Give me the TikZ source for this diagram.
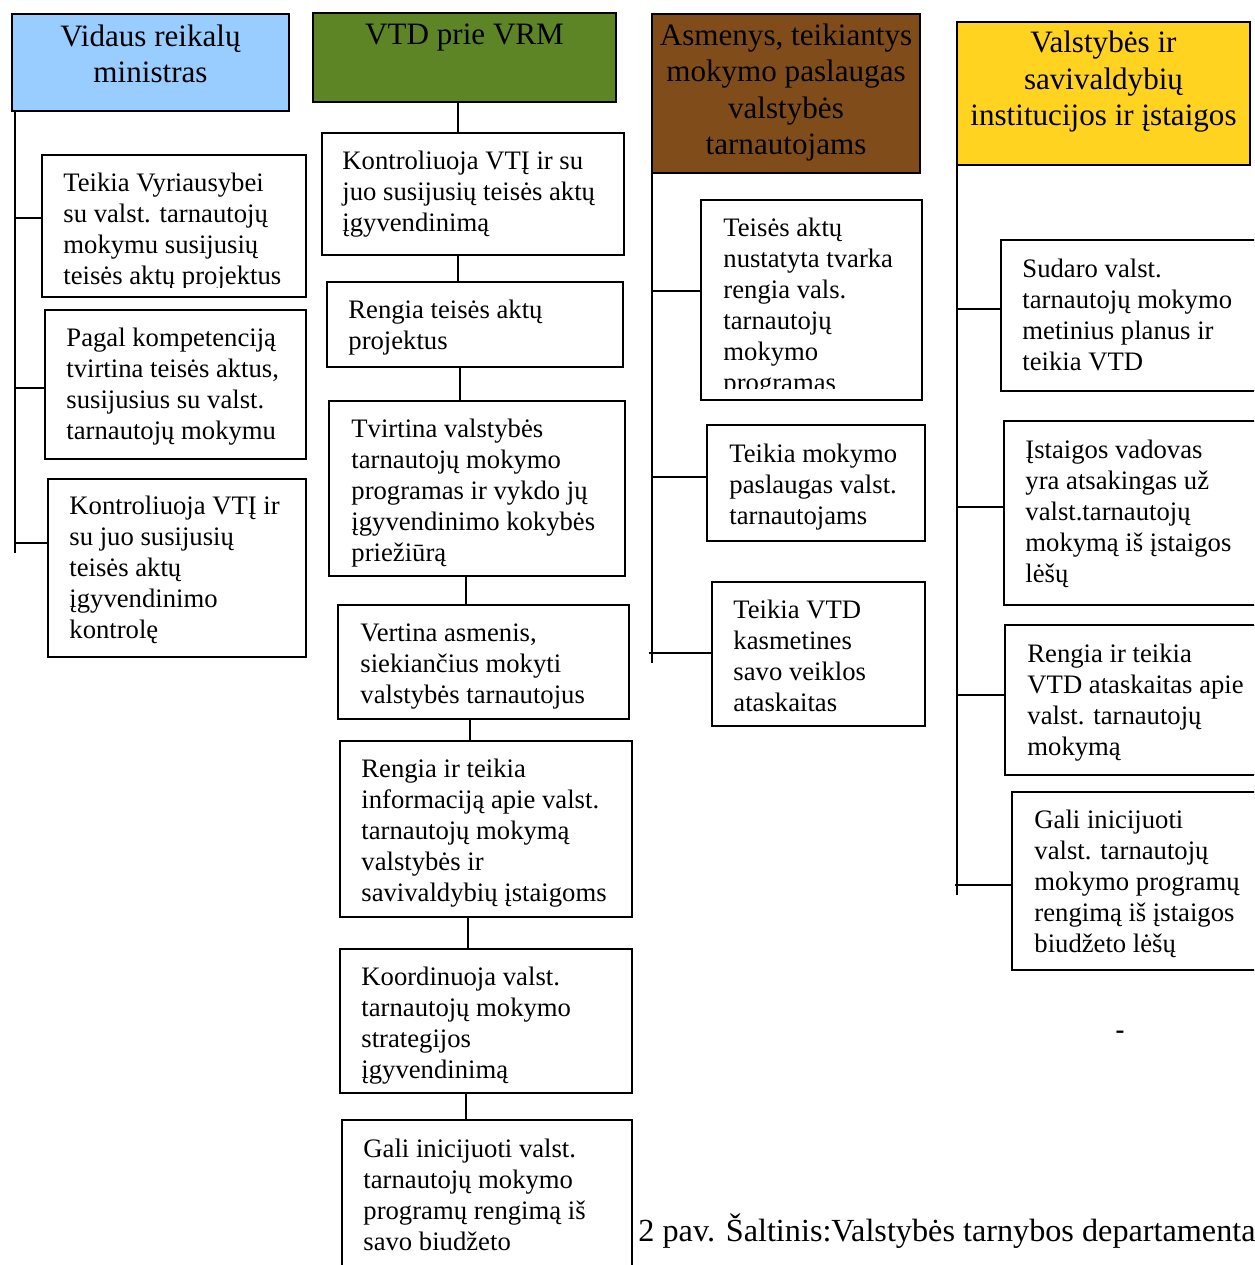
\documentclass[tikz,border=0pt]{standalone}
\usepackage{fontspec}
\setmainfont{Liberation Serif}
\usetikzlibrary{calc}
\definecolor{hblue}{RGB}{153,204,255}
\definecolor{hgreen}{RGB}{93,133,38}
\definecolor{hbrown}{RGB}{128,77,26}
\definecolor{hyellow}{RGB}{255,211,32}
\tikzset{
  box/.style={draw=black, line width=0.9pt, rectangle, inner sep=0pt, outer sep=0pt},
  hbox/.style={box, line width=1.1pt},
  txt/.style={anchor=base west, inner sep=0pt, font=\fontsize{12}{13.95}\selectfont},
  htxt/.style={anchor=base, inner sep=0pt, font=\fontsize{14}{16.45}\selectfont},
  conn/.style={line width=0.9pt}
}
\newcommand\mkbox[6][box]{\node[#1, minimum width={(#5-#3)*0.45pt}, minimum height={(#6-#4)*0.45pt}] (#2) at ({(#3+#5)/2},{(#4+#6)/2}) {};}
\newcommand\lines[1]{\begin{tabular}[t]{@{}l@{}}#1\end{tabular}}
\newcommand\clines[1]{\begin{tabular}[t]{@{}c@{}}#1\end{tabular}}
\begin{document}
\begin{tikzpicture}[x=0.45pt,y=-0.45pt]
\clip (0,0) rectangle (1254,1265);
\fill[white] (0,0) rectangle (1254,1265);

% headers
\mkbox[hbox,fill=hblue]{h1}{12}{14}{289}{111}
\mkbox[hbox,fill=hgreen]{h2}{313}{13}{616}{102}
\mkbox[hbox,fill=hbrown]{h3}{652}{14}{920}{173}
\mkbox[hbox,fill=hyellow]{h4}{957}{22}{1250}{165}
\node[htxt] (h1t) at (150.5,46) {\clines{Vidaus reikalų\\ministras}};
\node[htxt] (h2t) at (464.5,44) {VTD prie VRM};
\node[htxt] (h3t) at (786,45) {\clines{Asmenys, teikiantys\\mokymo paslaugas\\valstybės\\tarnautojams}};
\node[htxt] (h4t) at (1103.5,52.5) {\clines{Valstybės ir\\savivaldybių\\institucijos ir įstaigos}};

% left column
\mkbox{l1}{42}{155}{306}{297}
\mkbox{l2}{45}{310}{306}{459}
\mkbox{l3}{48}{479}{306}{657}
\begin{scope}
\clip (42,150) rectangle (306,287.5);
\node[txt] (l1t) at (63,191) {\lines{Teikia Vyriausybei\\su valst. tarnautojų\\mokymu susijusių\\teisės aktų projektus}};
\end{scope}
\node[txt] (l2t) at (66,346) {\lines{Pagal kompetenciją\\tvirtina teisės aktus,\\susijusius su valst.\\tarnautojų mokymu}};
\node[txt] (l3t) at (69,514) {\lines{Kontroliuoja VTĮ ir\\su juo susijusių\\teisės aktų\\įgyvendinimo\\kontrolę}};
\coordinate (lend) at (14.5,553);
\draw[conn] (h1.south -| lend) -- (lend);
\draw[conn] (lend |- 0,218) -- (l1.west |- 0,218);
\draw[conn] (lend |- 0,388) -- (l2.west |- 0,388);
\draw[conn] (lend |- 0,543) -- (l3.west |- 0,543);

% middle column
\mkbox{m1}{322}{133}{624}{255}
\mkbox{m2}{327}{282}{623}{367}
\mkbox{m3}{329}{401}{625}{576}
\mkbox{m4}{338}{605}{629}{719}
\mkbox{m5}{340}{741}{632}{917}
\mkbox{m6}{340}{949}{632}{1093}
\mkbox{m7}{342}{1120}{632}{1280}
\node[txt] (m1t) at (342,169) {\lines{Kontroliuoja VTĮ ir su\\juo susijusių teisės aktų\\įgyvendinimą}};
\node[txt] (m2t) at (348,318) {\lines{Rengia teisės aktų\\projektus}};
\node[txt] (m3t) at (351,437) {\lines{Tvirtina valstybės\\tarnautojų mokymo\\programas ir vykdo jų\\įgyvendinimo kokybės\\priežiūrą}};
\node[txt] (m4t) at (360,641) {\lines{Vertina asmenis,\\siekiančius mokyti\\valstybės tarnautojus}};
\node[txt] (m5t) at (361,777) {\lines{Rengia ir teikia\\informaciją apie valst.\\tarnautojų mokymą\\valstybės ir\\savivaldybių įstaigoms}};
\node[txt] (m6t) at (361,985) {\lines{Koordinuoja valst.\\tarnautojų mokymo\\strategijos\\įgyvendinimą}};
\node[txt] (m7t) at (363,1157) {\lines{Gali inicijuoti valst.\\tarnautojų mokymo\\programų rengimą iš\\savo biudžeto}};
\draw[conn] (h2.south -| 458,0) -- (m1.north -| 458,0);
\draw[conn] (m1.south -| 458,0) -- (m2.north -| 458,0);
\draw[conn] (m2.south -| 460,0) -- (m3.north -| 460,0);
\draw[conn] (m3.south -| 466,0) -- (m4.north -| 466,0);
\draw[conn] (m4.south -| 470,0) -- (m5.north -| 470,0);
\draw[conn] (m5.south -| 468,0) -- (m6.north -| 468,0);
\draw[conn] (m6.south -| 466,0) -- (m7.north -| 466,0);

% third column
\mkbox{r1}{701}{200}{922}{400}
\mkbox{r2}{707}{425}{925}{541}
\mkbox{r3}{712}{582}{925}{726}
\begin{scope}
\clip (701,195) rectangle (922,388.5);
\node[txt] (r1t) at (723,236) {\lines{Teisės aktų\\nustatyta tvarka\\rengia vals.\\tarnautojų\\mokymo\\programas}};
\end{scope}
\node[txt] (r2t) at (729,462) {\lines{Teikia mokymo\\paslaugas valst.\\tarnautojams}};
\node[txt] (r3t) at (733,618) {\lines{Teikia VTD\\kasmetines\\savo veiklos\\ataskaitas}};
\coordinate (rend) at (652,663);
\draw[conn] (h3.south -| rend) -- (rend);
\draw[conn] (rend |- 0,290.5) -- (r1.west |- 0,290.5);
\draw[conn] (rend |- 0,476.5) -- (r2.west |- 0,476.5);
\draw[conn] (649,652.5) -- (r3.west |- 0,652.5);

% fourth column
\mkbox{s1}{1001}{240}{1262}{391}
\mkbox{s2}{1004}{421}{1262}{605}
\mkbox{s3}{1005}{625}{1262}{775}
\mkbox{s4}{1012}{792}{1262}{970}
\node[txt] (s1t) at (1022,277) {\lines{Sudaro valst.\\tarnautojų mokymo\\metinius planus ir\\teikia VTD}};
\node[txt] (s2t) at (1025,458) {\lines{Įstaigos vadovas\\yra atsakingas už\\valst.tarnautojų\\mokymą iš įstaigos\\lėšų}};
\node[txt] (s3t) at (1027,662) {\lines{Rengia ir teikia\\VTD ataskaitas apie\\valst. tarnautojų\\mokymą}};
\node[txt] (s4t) at (1034,828) {\lines{Gali inicijuoti\\valst. tarnautojų\\mokymo programų\\rengimą iš įstaigos\\biudžeto lėšų}};
\coordinate (send) at (957,895);
\draw[conn] (h4.south -| send) -- (send);
\draw[conn] (send |- 0,308.5) -- (s1.west |- 0,308.5);
\draw[conn] (send |- 0,506.5) -- (s2.west |- 0,506.5);
\draw[conn] (send |- 0,694.5) -- (s3.west |- 0,694.5);
\draw[conn] (955,884.5) -- (s4.west |- 0,884.5);

% extras
\node[txt, anchor=base, font=\bfseries\fontsize{12}{14}\selectfont] (dash) at (1120,1038) {-};
\node[txt, anchor=base west, font=\fontsize{14.5}{16}\selectfont] (cap) at (638,1241) {2 pav. Šaltinis:Valstybės tarnybos departamenta};
\end{tikzpicture}
\end{document}
